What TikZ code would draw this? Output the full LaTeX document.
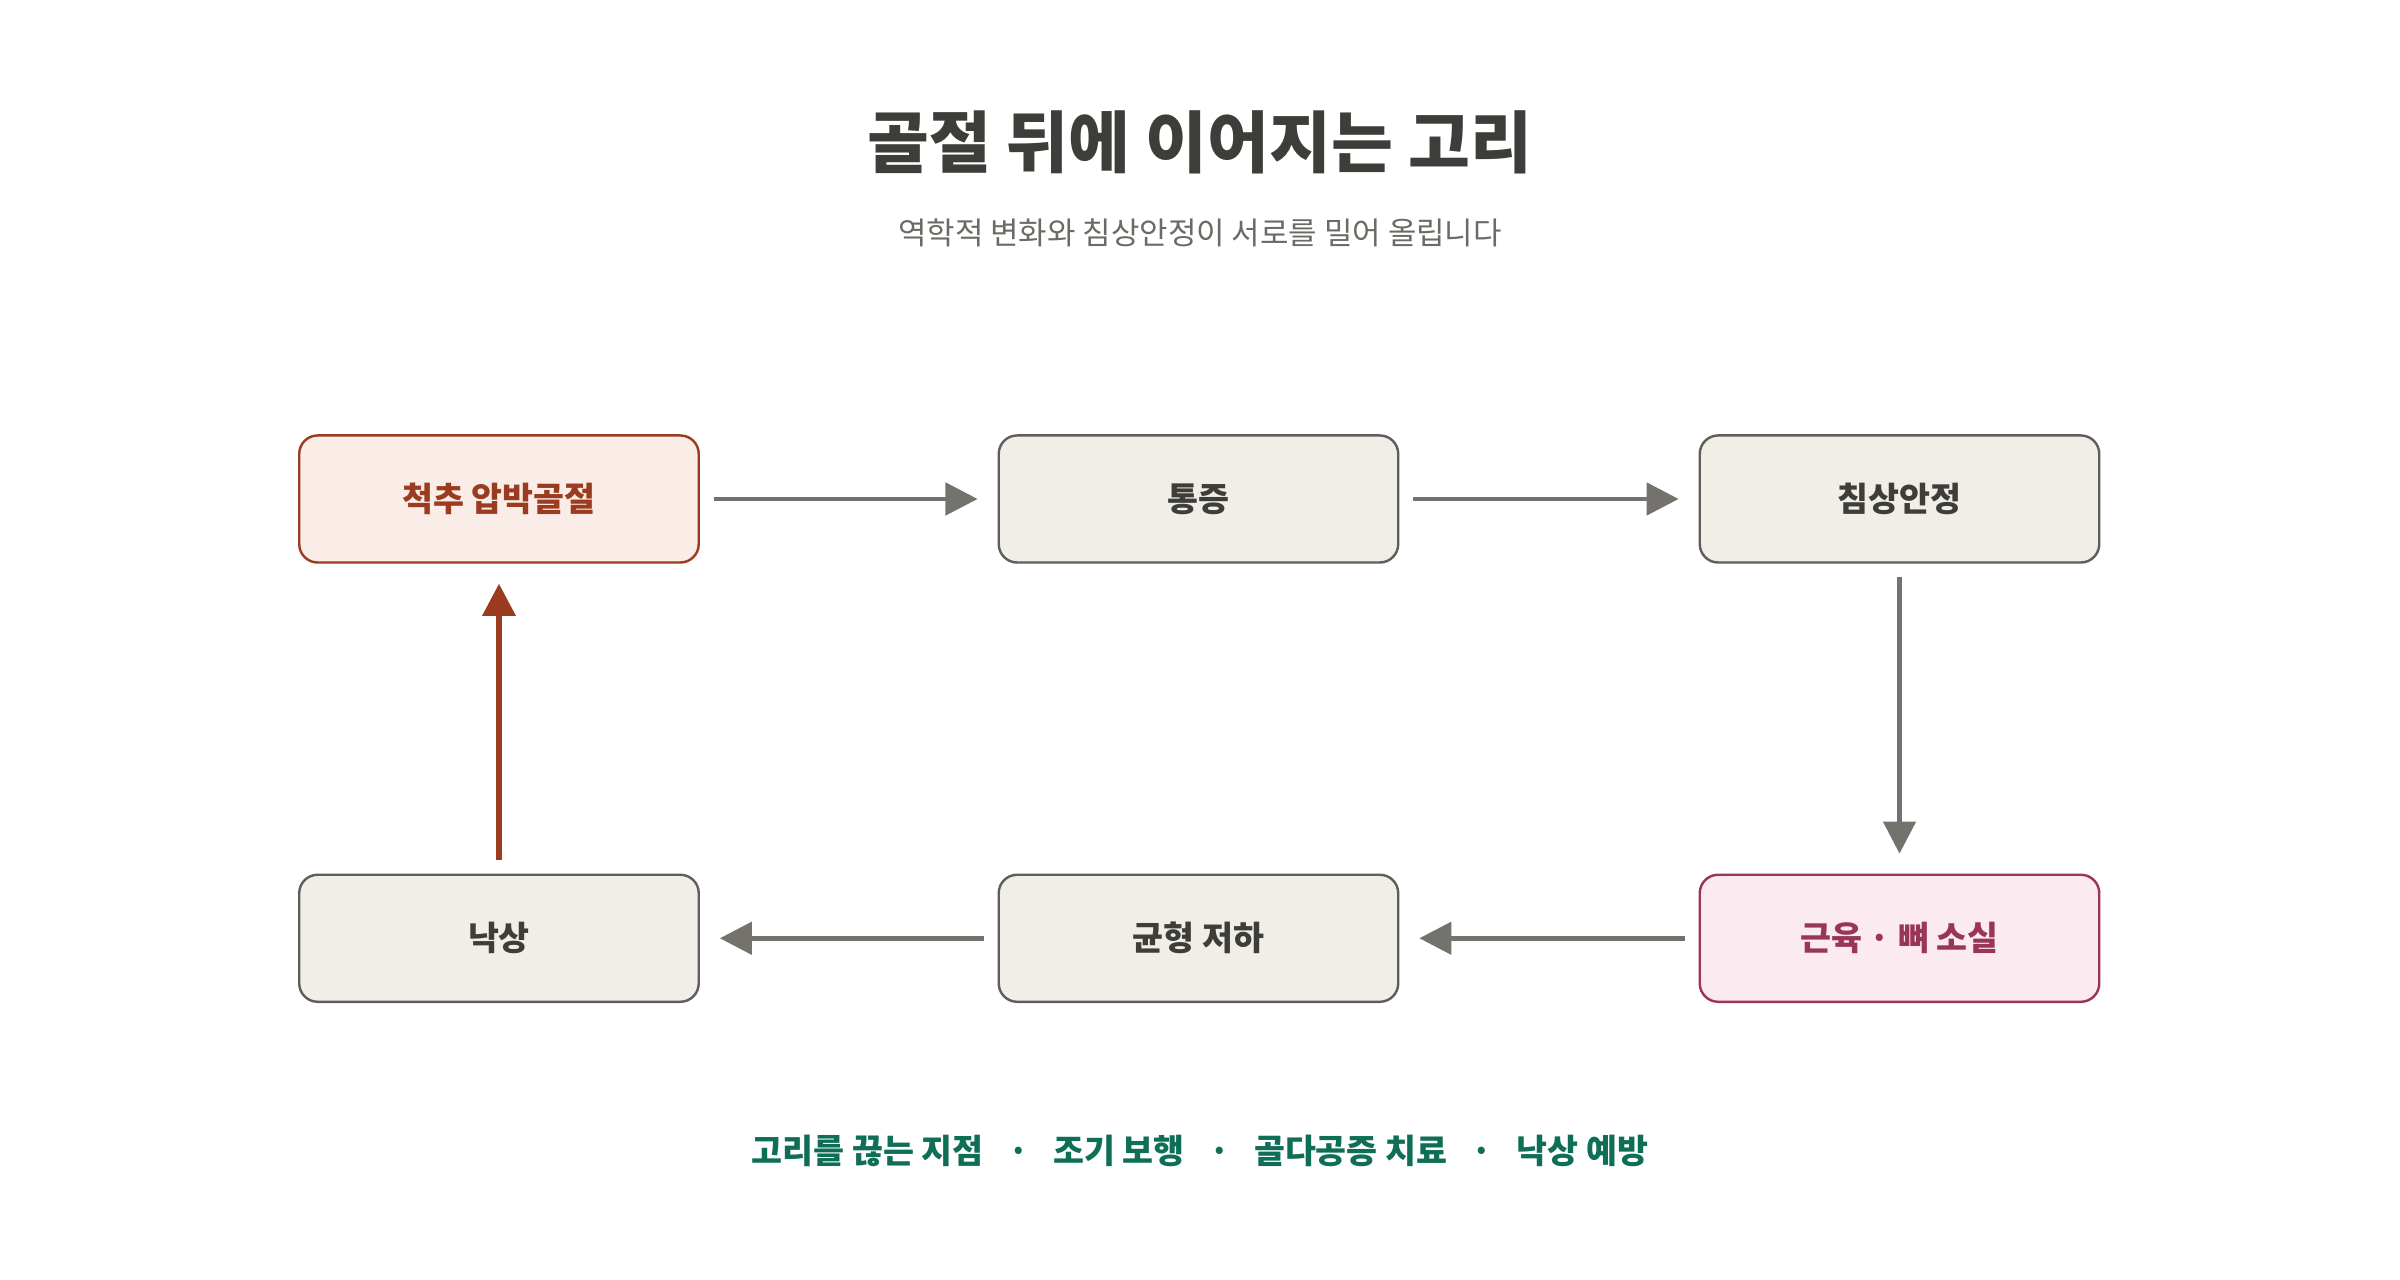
\documentclass[tikz,border=0pt]{standalone}
\usepackage{fontspec}
\setmainfont{Noto Sans CJK KR}
\usetikzlibrary{arrows.meta,positioning}
\definecolor{inkgray}{HTML}{3D3D3A}
\definecolor{subgray}{HTML}{6B6A65}
\definecolor{boxfill}{HTML}{F1EEE8}
\definecolor{boxline}{HTML}{5F5E5A}
\definecolor{arrowgray}{HTML}{73726C}
\definecolor{redfill}{HTML}{FAEDE7}
\definecolor{redline}{HTML}{9B3B1F}
\definecolor{pinkfill}{HTML}{FBEAF0}
\definecolor{pinkline}{HTML}{993556}
\definecolor{greentext}{HTML}{0F6E56}

\begin{document}
\begin{tikzpicture}
    \tikzset{stage/.style = {shape=rectangle,rounded corners=0.24cm,draw=boxline,fill=boxfill,line width=0.9pt,
        minimum width=5.22cm,minimum height=1.66cm,font=\fontsize{12.5}{15}\selectfont\bfseries,text=inkgray}}
    \tikzset{hot/.style = {stage,draw=redline,fill=redfill,text=redline}}
    \tikzset{loss/.style = {stage,draw=pinkline,fill=pinkfill,text=pinkline}}
    \tikzset{flow/.style = {-{Triangle[length=0.42cm,width=0.42cm]},draw=arrowgray,line width=1.7pt,
        shorten <=0.18cm,shorten >=0.26cm}}
    \useasboundingbox (0,0) rectangle (31.36,-16.72);

    % title
    \node[font=\fontsize{25}{30}\selectfont\bfseries,text=inkgray] (title) at (15.68,-1.86) {골절 뒤에 이어지는 고리};
    \node[font=\fontsize{11.5}{14}\selectfont,text=subgray] (sub) at (15.68,-3.04) {역학적 변화와 침상안정이 서로를 밀어 올립니다};

    % stages
    \node[hot] (fracture) at (6.52,-6.52) {척추 압박골절};
    \node[stage] (pain) at (15.66,-6.52) {통증};
    \node[stage] (bed) at (24.82,-6.52) {침상안정};
    \node[loss] (loss) at (24.82,-12.26) {근육 · 뼈 소실};
    \node[stage] (balance) at (15.66,-12.26) {균형 저하};
    \node[stage] (fall) at (6.52,-12.26) {낙상};

    % arrows
    \draw[flow] (fracture) to (pain);
    \draw[flow] (pain) to (bed);
    \draw[flow] (bed) to (loss);
    \draw[flow] (loss) to (balance);
    \draw[flow] (balance) to (fall);
    \draw[flow,draw=redline,line width=2.2pt] (fall) to (fracture);

    % footer
    \node[font=\fontsize{12.5}{15}\selectfont\bfseries,text=greentext] (breaks) at (15.68,-15.04)
      {고리를 끊는 지점 \enspace · \enspace 조기 보행 \enspace · \enspace 골다공증 치료 \enspace · \enspace 낙상 예방};
\end{tikzpicture}
\end{document}
